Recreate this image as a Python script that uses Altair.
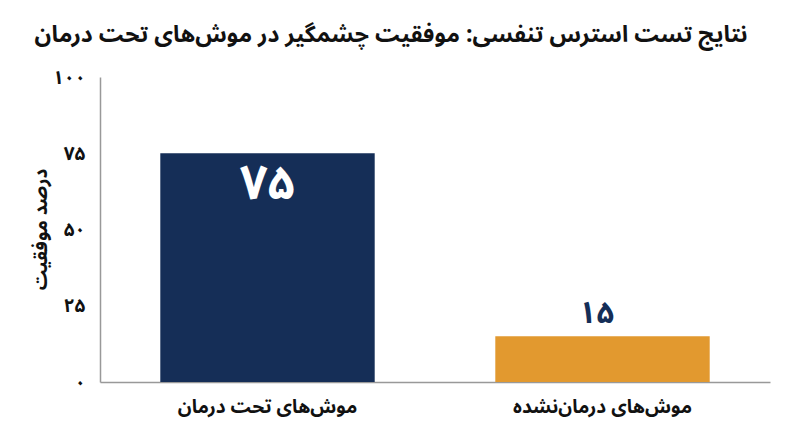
import altair as alt
import pandas as pd

categories = ["موش‌های تحت درمان", "موش‌های درمان‌نشده"]
values = [75, 15]
value_labels = ["۷۵", "۱۵"]
bar_colors = ["#152E57", "#E2992F"]
title_text = "نتایج تست استرس تنفسی: موفقیت چشمگیر در موش‌های تحت درمان"
y_title = "درصد موفقیت"

df = pd.DataFrame({"cat": categories, "val": values, "lab": value_labels, "col": bar_colors})

FONT = "Noto Sans Arabic, Vazirmatn, Noto Naskh Arabic, DejaVu Sans"

x_enc = alt.X("cat:N", sort=categories, title=None,
              scale=alt.Scale(paddingInner=0.36, paddingOuter=0.18),
              axis=alt.Axis(labelAngle=0, ticks=False, labelPadding=15, labelFontSize=19,
                            labelFontWeight="bold", labelColor="#111", labelFont=FONT,
                            labelLimit=0,
                            domainColor="#999", domainWidth=1.5))
y_enc = alt.Y("val:Q", title=y_title, scale=alt.Scale(domain=[0, 100], nice=False),
              axis=alt.Axis(values=[0, 25, 50, 75, 100], ticks=False, grid=False,
                            labelExpr="datum.value == 0 ? '۰' : datum.value == 25 ? '۲۵' : datum.value == 50 ? '۵۰' : datum.value == 75 ? '۷۵' : '۱۰۰'",
                            labelPadding=15, labelFontSize=19, labelFontWeight="bold",
                            labelColor="#111", labelFont=FONT,
                            titleFontSize=19, titleFontWeight="bold", titleFont=FONT,
                            titleColor="#111", titleX=-50, titleY=152,
                            domainColor="#999", domainWidth=1.5))

base = alt.Chart(df)
bars = base.mark_bar().encode(x=x_enc, y=y_enc,
                              color=alt.Color("col:N", scale=None))
inside = base.transform_filter("datum.val >= 50").mark_text(
    font=FONT, fontSize=48, fontWeight="bold", color="white", dy=32, baseline="middle"
).encode(x=alt.X("cat:N", sort=categories), y="val:Q", text="lab:N")
above = base.transform_filter("datum.val < 50").mark_text(
    font=FONT, fontSize=31, fontWeight="bold", color="#152E57", dy=-22, dx=-6, baseline="middle"
).encode(x=alt.X("cat:N", sort=categories), y="val:Q", text="lab:N")

chart = alt.layer(bars, inside, above).properties(
    width=670, height=305,
    title=alt.Title(title_text, fontSize=23, fontWeight="bold", font=FONT, color="#111",
                    anchor="middle", dx=-44, offset=21, limit=0),
    autosize=alt.AutoSizeParams(type="none"),
    padding={"left": 92, "top": 69, "right": 22, "bottom": 57},
).configure_view(stroke=None)

chart.save("out.html", embed_options={"renderer": "svg", "actions": False})
